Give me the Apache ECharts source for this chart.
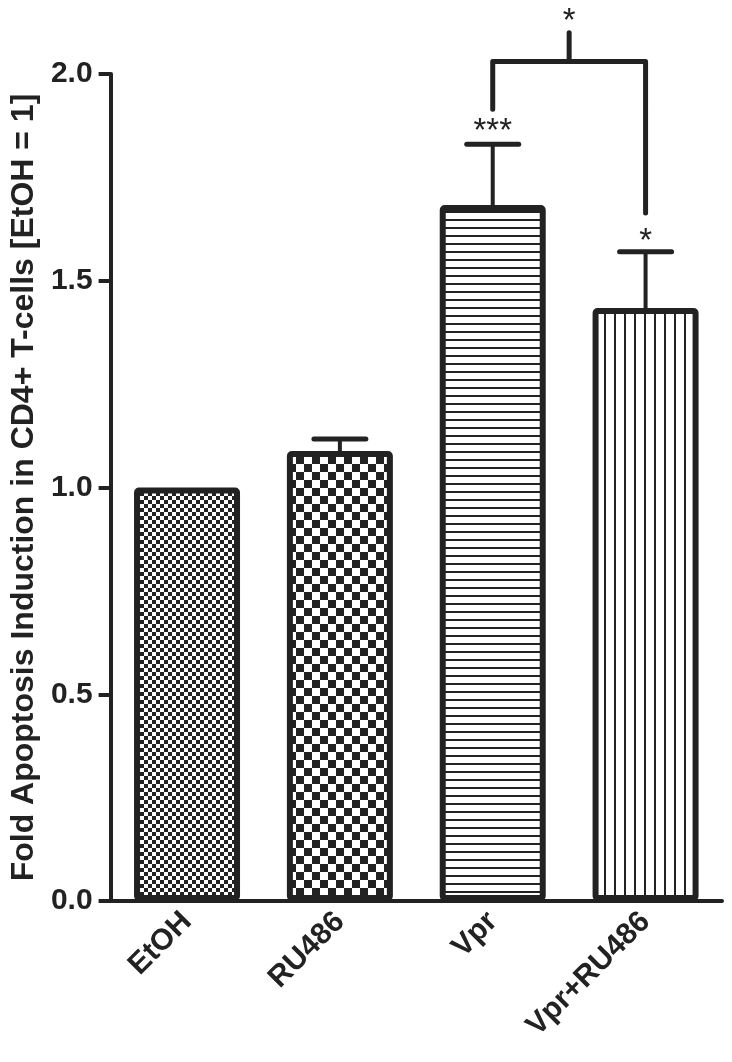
<!DOCTYPE html>
<html>
<head>
<meta charset="utf-8">
<script src="https://cdn.jsdelivr.net/npm/echarts@6/dist/echarts.min.js"></script>
<style>
  html, body { margin: 0; padding: 0; background: #fff; }
  #chart { width: 732px; height: 1062px; }
</style>
</head>
<body>
<div id="chart"></div>
<script>
// data
var categories = ['EtOH', 'RU486', 'Vpr', 'Vpr+RU486']
var means = [1.0, 1.088, 1.683, 1.434]
var errTops = [null, 1.117, 1.83, 1.57]
var starLabels = ['', '', '***', '*']
var starLevels = [null, null, 1.86, 1.595]
// bracket Vpr vs Vpr+RU486: [left leg bottom, bar level, right leg bottom, centre tick top]
var bracketCats = ['Vpr', 'Vpr+RU486']
var bracketLevels = [1.915, 2.03, 1.664, 2.10]
var bracketStar = '*'
var bracketStarLevel = 2.125

var INK = '#222'
var FONT = '"Liberation Sans", Arial, sans-serif'

// fill patterns of the bars
function makePattern(kind) {
  var c = document.createElement('canvas')
  var ctx = c.getContext('2d')
  if (kind === 'fineCheck' || kind === 'coarseCheck') {
    var s = kind === 'fineCheck' ? 4 : 8
    c.width = c.height = s * 2
    ctx.fillStyle = '#fff'
    ctx.fillRect(0, 0, s * 2, s * 2)
    ctx.fillStyle = INK
    ctx.fillRect(0, 0, s, s)
    ctx.fillRect(s, s, s, s)
  } else if (kind === 'hLines') {
    c.width = 8; c.height = 8
    ctx.fillStyle = '#fff'
    ctx.fillRect(0, 0, 8, 8)
    ctx.fillStyle = INK
    ctx.fillRect(0, 3, 8, 2)
  } else {
    c.width = 10; c.height = 10
    ctx.fillStyle = '#fff'
    ctx.fillRect(0, 0, 10, 10)
    ctx.fillStyle = INK
    ctx.fillRect(4, 0, 2, 10)
  }
  return { image: c, repeat: 'repeat' }
}
var patterns = [makePattern('fineCheck'), makePattern('coarseCheck'), makePattern('hLines'), makePattern('vLines')]

var chart = echarts.init(document.getElementById('chart'))

chart.setOption({
  animation: false,
  backgroundColor: '#fff',
  grid: { left: 109, right: 10, top: 74, bottom: 161 },
  xAxis: {
    type: 'category',
    data: categories,
    axisLine: { lineStyle: { color: INK, width: 4 } },
    axisTick: { alignWithLabel: true, length: 10, lineStyle: { color: INK, width: 4 } },
    axisLabel: {
      rotate: 45, margin: 16, color: INK,
      fontSize: 30, fontWeight: 'bold', fontFamily: FONT
    }
  },
  yAxis: {
    type: 'value',
    min: 0, max: 2, interval: 0.5,
    name: 'Fold Apoptosis Induction in CD4+ T-cells [EtOH = 1]',
    nameLocation: 'middle',
    nameGap: 68,
    nameTextStyle: { color: INK, fontSize: 32, fontWeight: 'bold', fontFamily: FONT },
    axisLine: { show: true, lineStyle: { color: INK, width: 4 } },
    axisTick: { show: true, length: 12, lineStyle: { color: INK, width: 4 } },
    splitLine: { show: false },
    axisLabel: {
      margin: 18, color: INK, fontSize: 30, fontWeight: 'bold', fontFamily: FONT,
      formatter: function (v) { return v.toFixed(1) }
    }
  },
  series: [
    {
      type: 'bar',
      barWidth: 106,
      z: 2,
      data: means.map(function (v, i) {
        return { value: v, itemStyle: { color: patterns[i] } }
      }),
      itemStyle: { borderColor: INK, borderWidth: 6, borderRadius: 2 }
    },
    {
      // error bars and stars
      type: 'custom',
      z: 3,
      data: categories.map(function (c, i) {
        return [i, means[i], errTops[i] == null ? NaN : errTops[i], starLevels[i] == null ? NaN : starLevels[i]]
      }),
      renderItem: function (params, api) {
        var i = api.value(0)
        var children = []
        var top = api.value(2)
        if (!isNaN(top)) {
          var p0 = api.coord([i, api.value(1)])
          var p1 = api.coord([i, top])
          children.push({
            type: 'line', shape: { x1: p0[0], y1: p0[1], x2: p1[0], y2: p1[1] },
            style: { stroke: INK, lineWidth: 4 }
          })
          children.push({
            type: 'line', shape: { x1: p1[0] - 26, y1: p1[1], x2: p1[0] + 26, y2: p1[1] },
            style: { stroke: INK, lineWidth: 5, lineCap: 'round' }
          })
        }
        var sl = api.value(3)
        if (!isNaN(sl) && starLabels[i]) {
          var ps = api.coord([i, sl])
          children.push({
            type: 'text', x: ps[0], y: ps[1],
            style: { text: starLabels[i], fill: INK, font: '33px ' + FONT, align: 'center', verticalAlign: 'middle' }
          })
        }
        return { type: 'group', children: children }
      }
    },
    {
      // significance bracket
      type: 'custom',
      z: 3,
      data: [[categories.indexOf(bracketCats[0]), categories.indexOf(bracketCats[1])]],
      renderItem: function (params, api) {
        var a = api.value(0), b = api.value(1)
        var pl = api.coord([a, bracketLevels[0]])
        var pt = api.coord([a, bracketLevels[1]])
        var pr = api.coord([b, bracketLevels[2]])
        var prt = api.coord([b, bracketLevels[1]])
        var mid = (pt[0] + prt[0]) / 2
        var pTick = api.coord([a, bracketLevels[3]])
        var pStar = api.coord([a, bracketStarLevel])
        return {
          type: 'group',
          children: [
            {
              type: 'polyline',
              shape: { points: [[pl[0], pl[1]], [pt[0], pt[1]], [prt[0], prt[1]], [pr[0], pr[1]]] },
              style: { stroke: INK, lineWidth: 5, fill: null, lineJoin: 'round', lineCap: 'round' }
            },
            {
              type: 'line', shape: { x1: mid, y1: pt[1], x2: mid, y2: pTick[1] },
              style: { stroke: INK, lineWidth: 5, lineCap: 'round' }
            },
            {
              type: 'text', x: mid, y: pStar[1],
              style: { text: bracketStar, fill: INK, font: '33px ' + FONT, align: 'center', verticalAlign: 'middle' }
            }
          ]
        }
      }
    }
  ]
})
</script>
</body>
</html>
